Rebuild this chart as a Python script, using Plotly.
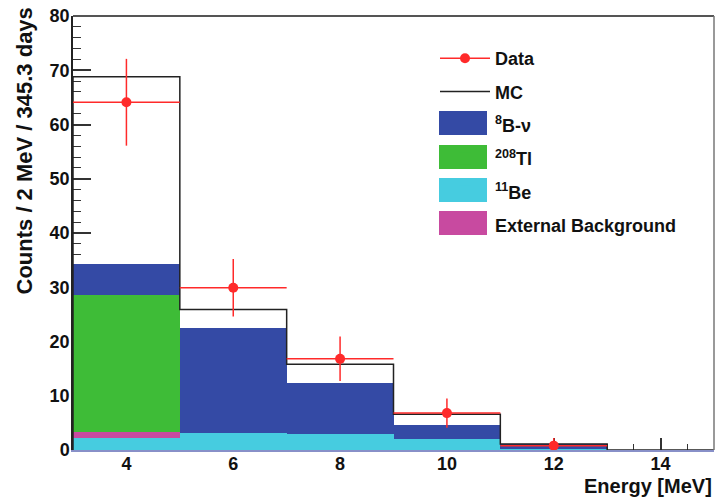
import plotly.graph_objects as go

# ---- data ----
bin_edges = [3, 5, 7, 9, 11, 13, 15]
bin_centers = [4, 6, 8, 10, 12, 14]
be11 = [2.3, 3.1, 2.9, 2.0, 0.15, 0]
ext_bkg = [1.1, 0, 0, 0, 0, 0]
tl208 = [25.2, 0, 0, 0, 0, 0]
b8nu = [5.6, 19.4, 9.4, 2.6, 0.95, 0]
mc_total = [68.8, 25.9, 15.8, 6.6, 1.1, 0]
data_x = [4, 6, 8, 10, 12]
data_y = [64.1, 29.9, 16.8, 6.8, 0.8]
data_yerr = [8.0, 5.3, 4.1, 2.7, 1.4]
data_xerr = [1, 1, 1, 1, 1]
y_ticks = [0, 10, 20, 30, 40, 50, 60, 70, 80]
x_ticks = [4, 6, 8, 10, 12, 14]

FONT = "Liberation Sans"
C_BLUE = "#344AA5"
C_GREEN = "#3EBC37"
C_CYAN = "#46CCE0"
C_MAG = "#C84AA0"
C_RED = "#FF2A2A"
TICKC = "#333333"

# plot-area geometry in pixels (for legend swatch placement)
ML, MR, MT, MB, W, H = 73, 3, 16, 47, 717, 497
PW, PH = W - ML - MR, H - MT - MB


def px(xp):
    return (xp - ML) / PW


def py(yp):
    return (H - MB - yp) / PH


fig = go.Figure()
width = [bin_edges[i + 1] - bin_edges[i] for i in range(len(bin_centers))]

stack = [
    ("<sup>11</sup>Be", be11, C_CYAN, 5),
    ("External Background", ext_bkg, C_MAG, 6),
    ("<sup>208</sup>Tl", tl208, C_GREEN, 4),
    ("<sup>8</sup>B-ν", b8nu, C_BLUE, 3),
]
for name, vals, col, rank in stack:
    fig.add_trace(go.Bar(x=bin_centers, y=vals, width=width, name=name,
                         marker=dict(color=col, line=dict(width=0)),
                         legendrank=rank, legendgroup=name))

# MC step outline
mc_x = [bin_edges[0]] + bin_edges
mc_y = [0] + mc_total + [mc_total[-1]]
fig.add_trace(go.Scatter(x=mc_x, y=mc_y, mode="lines",
                         line=dict(shape="hv", color="#222222", width=1.5),
                         name="MC", legendrank=2, legendgroup="MC"))

# Data points with error bars
fig.add_trace(go.Scatter(x=data_x, y=data_y, mode="markers", showlegend=False,
                         marker=dict(color=C_RED, size=10),
                         error_y=dict(type="data", array=data_yerr, color=C_RED, thickness=1.5, width=0),
                         error_x=dict(type="data", array=data_xerr, color=C_RED, thickness=1.5, width=0)))
# legend entry for data
fig.add_trace(go.Scatter(x=[None], y=[None], mode="lines+markers", name="Data",
                         line=dict(color=C_RED, width=1.5), marker=dict(color=C_RED, size=10),
                         legendrank=1, legendgroup="Data"))

# larger legend swatches behind plotly's small ones (same colours)
swatch_rows = {3: 123, 4: 157, 5: 190, 6: 223}
shapes = [
    dict(type="line", xref="paper", yref="paper", x0=0, x1=1, y0=1, y1=1,
         line=dict(color="#555", width=2)),
    dict(type="line", xref="paper", yref="paper", x0=1, x1=1, y0=0, y1=1,
         line=dict(color="#777", width=1.5)),
]
for name, vals, col, rank in stack:
    yc = swatch_rows[rank]
    shapes.append(dict(type="rect", xref="paper", yref="paper", layer="above",
                       x0=px(439), x1=px(487), y0=py(yc - 12), y1=py(yc + 12),
                       fillcolor=col, line=dict(width=0)))

fig.update_layout(
    width=W, height=H,
    margin=dict(l=ML, r=MR, t=MT, b=MB),
    paper_bgcolor="white", plot_bgcolor="white",
    barmode="stack", bargap=0,
    font=dict(family=FONT, size=18, color="#111111", weight="bold"),
    showlegend=True,
    legend=dict(x=px(435), y=py(40), xanchor="left", yanchor="top",
                font=dict(size=18, family=FONT, weight="bold"),
                bgcolor="rgba(0,0,0,0)", tracegroupgap=7, itemwidth=50,
                traceorder="grouped"),
    xaxis=dict(range=[3, 15], tickmode="array", tickvals=x_ticks, ticks="inside", ticklen=12, tickwidth=1.5,
               tickcolor=TICKC, showgrid=False, zeroline=False, layer="below traces",
               showline=True, linecolor="#8890C8", linewidth=1.5, mirror=False,
               minor=dict(dtick=0.5, ticks="inside", ticklen=6, tickwidth=1.2, tickcolor=TICKC),
               tickfont=dict(size=18), ticklabelstandoff=-3),
    yaxis=dict(range=[0, 80], tickmode="array", tickvals=y_ticks, ticks="inside", ticklen=18, tickwidth=1.5,
               tickcolor=TICKC, showgrid=False, zeroline=False, layer="below traces",
               showline=True, linecolor="#222", linewidth=1.5, mirror=False,
               minor=dict(dtick=2, ticks="inside", ticklen=8, tickwidth=1.2, tickcolor=TICKC),
               tickfont=dict(size=18), ticklabelstandoff=-2),
    shapes=shapes,
    annotations=[
        dict(text="Counts / 2 MeV / 345.3 days", xref="paper", yref="paper",
             x=px(24), y=py(6), xanchor="center", yanchor="top", textangle=-90,
             showarrow=False, font=dict(size=22, family=FONT, weight="bold")),
        dict(text="Energy [MeV]", xref="paper", yref="paper",
             x=1.0, y=py(486), xanchor="right", yanchor="middle",
             showarrow=False, font=dict(size=20, family=FONT, weight="bold")),
    ],
)

fig.write_html("out.html")
